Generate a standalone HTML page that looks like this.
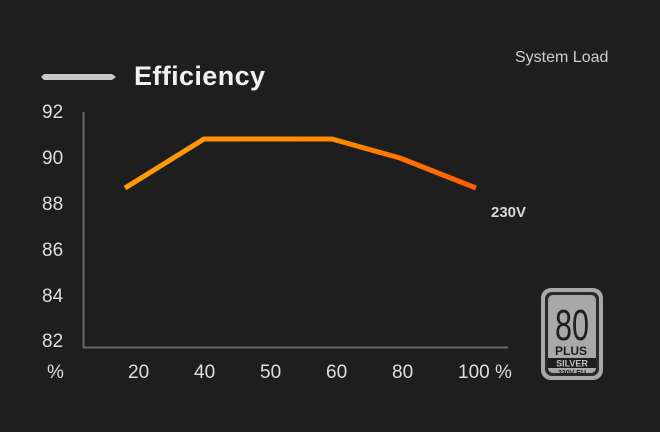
<!DOCTYPE html>
<html><head><style>
html,body{margin:0;padding:0;background:#1e1e1e;}
svg{display:block}
text{font-family:"Liberation Sans",sans-serif}
</style></head><body>
<svg width="660" height="432" viewBox="0 0 660 432">
<rect width="660" height="432" fill="#1e1e1e"/>
<defs><linearGradient id="g" x1="125" y1="0" x2="476" y2="0" gradientUnits="userSpaceOnUse">
<stop offset="0" stop-color="#ff9c0a"/><stop offset="0.6" stop-color="#ff8a00"/><stop offset="1" stop-color="#ff5a08"/></linearGradient></defs>
<text x="515" y="62" font-size="16" style="fill:#cfcfcf">System Load</text>
<polygon points="44,74 112,74 116,77 112,80 44,80 41,77" fill="#c8c8c8"/>
<text x="134" y="85" font-size="27" font-weight="bold" style="fill:#f0f0f0" textLength="131">Efficiency</text>
<line x1="83.5" y1="112" x2="83.5" y2="348" stroke="#6a6a6a" stroke-width="2"/>
<line x1="83" y1="347.5" x2="508" y2="347.5" stroke="#6a6a6a" stroke-width="2"/>
<g font-size="19" style="fill:#dedede">
<text x="42" y="118">92</text>
<text x="42" y="164">90</text>
<text x="42" y="210">88</text>
<text x="42" y="256">86</text>
<text x="42" y="302">84</text>
<text x="42" y="347">82</text>
<text x="47" y="378">%</text>
<text x="128" y="378">20</text>
<text x="194" y="378">40</text>
<text x="260" y="378">50</text>
<text x="326" y="378">60</text>
<text x="392" y="378">80</text>
<text x="458" y="378">100</text>
<text x="495" y="378">%</text>
</g>
<polyline points="125,188 204,139 332,139 400,158 476,188" fill="none" stroke="url(#g)" stroke-width="5" stroke-linejoin="round"/>
<text x="491" y="217" font-size="15" font-weight="bold" style="fill:#d8d8d8">230V</text>
<g>
<rect x="541" y="288" width="62" height="92" rx="10" fill="#a9a9a9"/>
<rect x="545" y="292" width="54" height="84" rx="7" fill="#2a2a2a"/>
<rect x="548" y="295" width="48" height="78" rx="5" fill="#a9a9a9"/>
<text x="572" y="340" font-size="44" text-anchor="middle" style="fill:#1e1e1e" textLength="34" lengthAdjust="spacingAndGlyphs">80</text>
<text x="571" y="355" font-size="12" text-anchor="middle" font-weight="bold" style="fill:#1e1e1e">PLUS</text>
<rect x="548" y="358" width="48" height="10" fill="#1e1e1e"/>
<text x="572" y="366.5" font-size="9" text-anchor="middle" font-weight="bold" style="fill:#c0c0c0">SILVER</text>
<text x="572" y="375" font-size="7" text-anchor="middle" font-weight="bold" style="fill:#1e1e1e">230V EU</text>
</g>
</svg>
</body></html>
